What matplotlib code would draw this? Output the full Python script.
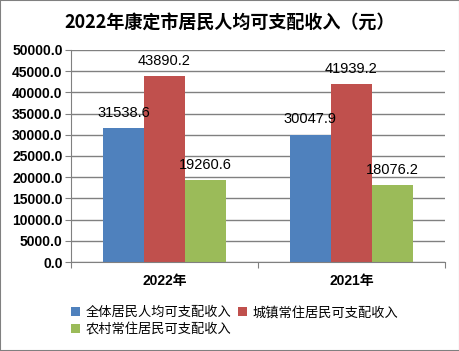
import numpy as np
import matplotlib.pyplot as plt
from matplotlib.patches import Rectangle

plt.rcParams['font.family'] = ['Liberation Sans', 'Noto Sans CJK SC', 'DejaVu Sans']

years = ["2022年", "2021年"]
series = ["全体居民人均可支配收入", "城镇常住居民可支配收入", "农村常住居民可支配收入"]
total = [31538.6, 30047.9]
urban = [43890.2, 41939.2]
rural = [19260.6, 18076.2]
colors = ["#4F81BD", "#C0504D", "#9BBB59"]

fig = plt.figure(figsize=(4.6, 3.51), dpi=100)
ax = fig.add_axes([71/460, 1 - 262/351, (445 - 71)/460, (262 - 50)/351])

x = np.arange(len(years))
w = 0.22
handles = []
for i, (vals, name) in enumerate(zip([total, urban, rural], series)):
    bars = ax.bar(x + (i - 1) * w, vals, w, color=colors[i], label=name, zorder=2)
    handles.append(bars)
    for b, v in zip(bars, vals):
        ax.annotate(f"{v:.1f}", (b.get_x() + b.get_width() / 2, v), xytext=(0, 6),
                    textcoords="offset points", ha="center", va="bottom", fontsize=10.5)

ax.set_xlim(-0.5, 1.5)
ax.set_ylim(0, 50000)
ax.set_yticks(np.arange(0, 50001, 5000))
ax.set_yticklabels([f"{t:.1f}" for t in np.arange(0, 50001, 5000)], fontsize=10, fontweight="bold")
ax.set_xticks([-0.5, 0.5, 1.5], minor=False)
ax.set_xticklabels([])
ax.set_xticks(x, minor=True)
ax.set_xticklabels(years, minor=True, fontsize=10, fontweight="bold")
ax.tick_params(axis="x", which="minor", length=0, pad=9)
ax.tick_params(axis="x", which="major", length=4, color="#808080")
ax.tick_params(axis="y", length=4, color="#808080", pad=2)
ax.yaxis.grid(True, color="#808080", linewidth=1, zorder=0)
ax.set_axisbelow(True)
for s in ["top", "right"]:
    ax.spines[s].set_visible(False)
for s in ["left", "bottom"]:
    ax.spines[s].set_color("#808080")

fig.text(0.5, 1 - 22/351, "2022年康定市居民人均可支配收入（元）", ha="center", va="center",
         fontsize=13, fontweight="bold", family=["Noto Sans CJK SC", "DejaVu Sans"])

order = [0, 2, 1]
leg = fig.legend([handles[k] for k in order], [series[k] for k in order],
                 loc="upper left", bbox_to_anchor=(62/460, 1 - 297/351), ncol=2, frameon=False,
                 handlelength=0.7, handleheight=0.7, handletextpad=0.4, columnspacing=0.5,
                 labelspacing=0.3, borderpad=0.2,
                 prop={"family": ["Noto Sans CJK SC"], "size": 9.5})

fig.patches.append(Rectangle((0, 0), 1, 1, transform=fig.transFigure, fill=False,
                             edgecolor="#808080", linewidth=1.5))

fig.savefig("out.png", dpi=100)
